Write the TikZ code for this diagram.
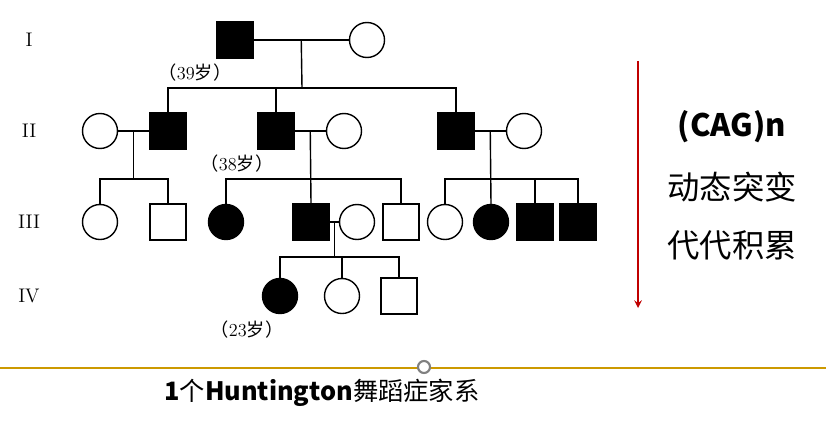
\documentclass[tikz,border=0pt]{standalone}
\usepackage{fontspec}
\newfontfamily\cjk{Noto Sans CJK SC}
\usetikzlibrary{calc}
\usetikzlibrary{positioning}
\definecolor{arrred}{RGB}{192,0,0}
\definecolor{gold}{RGB}{204,153,0}

\begin{document}
\begin{tikzpicture}[>=stealth,x=0.025cm,y=-0.025cm,line width=1pt,
    sq/.style={draw,rectangle,minimum size=0.9cm,inner sep=0pt},
    ci/.style={draw,circle,minimum size=0.875cm,inner sep=0pt},
    aff/.style={fill=black},
    age/.style={font=\fontsize{13}{15}\selectfont},
    gen/.style={font=\fontsize{14}{16}\selectfont}]
    \path[use as bounding box] (0,0) rectangle (826,420);
    % generation numbers
    \foreach \g/\y in {I/40,II/131,III/222,IV/296}
      \node[gen] (g\g) at (29,\y) {\g};
    % I
    \node[sq,aff] (I1) at (235,40) {};
    \node[ci] (I2) at (367,40) {};
    % II
    \node[ci] (II1) at (100,131) {};
    \node[sq,aff] (II2) at (168,131) {};
    \node[sq,aff] (II3) at (276,131) {};
    \node[ci] (II4) at (344,131) {};
    \node[sq,aff] (II5) at (456,131) {};
    \node[ci] (II6) at (524,131) {};
    % III
    \node[ci] (III1) at (100,222) {};
    \node[sq] (III2) at (168,222) {};
    \node[ci,aff] (III3) at (226,222) {};
    \node[sq,aff] (III4) at (311,222) {};
    \node[ci] (III5) at (357,222) {};
    \node[sq] (III6) at (401,222) {};
    \node[ci] (III7) at (445,222) {};
    \node[ci,aff] (III8) at (491,222) {};
    \node[sq,aff] (III9) at (535,222) {};
    \node[sq,aff] (III10) at (578,222) {};
    % IV
    \node[ci,aff] (IV1) at (280,296) {};
    \node[ci] (IV2) at (342,296) {};
    \node[sq] (IV3) at (399,296) {};

    % matings and sibships
    \draw (I1) -- (I2);
    \coordinate (m1) at ($(I1.east)!0.5!(I2.west)$);
    \coordinate (s1) at (302,88);
    \draw (m1) -- (s1);
    \draw (II2.north) -- (II2.north |- s1) -- (II5.north |- s1) -- (II5.north);
    \draw (II3.north) -- (II3.north |- s1);

    \draw (II1) -- (II2);
    \coordinate (m2) at ($(II1.east)!0.5!(II2.west)$);
    \coordinate (s2) at ($(m2) + (0,48)$);
    \draw (m2) -- (s2);
    \draw (III1.north) -- (III1.north |- s2) -- (III2.north |- s2) -- (III2.north);

    \draw (II3) -- (II4);
    \coordinate (m3) at ($(II3.east)!0.5!(II4.west)$);
    \coordinate (s3) at ($(m3) + (0,48)$);
    \draw (m3) -- (III4.north);
    \draw (III3.north) -- (III3.north |- s3) -- (III6.north |- s3) -- (III6.north);

    \draw (II5) -- (II6);
    \coordinate (m4) at ($(II5.east)!0.5!(II6.west)$);
    \coordinate (s4) at ($(m4) + (0,48)$);
    \draw (m4) -- (III8.north);
    \draw (III7.north) -- (III7.north |- s4) -- (III10.north |- s4) -- (III10.north);
    \draw (III9.north) -- (III9.north |- s4);

    \draw (III4) -- (III5);
    \coordinate (m5) at ($(III4.east)!0.5!(III5.west)$);
    \coordinate (s5) at ($(m5) + (0,35)$);
    \draw (m5) -- (s5);
    \draw (IV1.north) -- (IV1.north |- s5) -- (IV3.north |- s5) -- (IV3.north);
    \draw (IV2.north) -- (IV2.north |- s5);

    % ages
    \node[age] (a1) at (195,73) {{\cjk （}39{\cjk 岁）}};
    \node[age] (a2) at (237,164) {{\cjk （}38{\cjk 岁）}};
    \node[age] (a3) at (247,330) {{\cjk （}23{\cjk 岁）}};

    % right side
    \coordinate (r1) at (638,61);
    \coordinate (r2) at (638,308);
    \draw[->,arrred,line width=1.4pt] (r1) -- (r2);
    \node[font=\cjk\bfseries\fontsize{22}{24}\selectfont] (cag) at (732,127) {(CAG)n};
    \node[font=\cjk\fontsize{23}{25}\selectfont] (dyn) at (732,187) {动态突变};
    \node[font=\cjk\fontsize{23}{25}\selectfont] (acc) at (732,245) {代代积累};

    % bottom
    \coordinate (b1) at (0,368);
    \coordinate (b2) at (826,368);
    \draw[gold,line width=1.5pt] (b1) -- (b2);
    \node[draw=gray,line width=1.5pt,fill=white,circle,minimum size=0.3cm,inner sep=0pt] (dot) at (424,367) {};
    \node[font=\cjk\fontsize{18}{20}\selectfont] (title) at (322,393) {{\bfseries 1}个{\bfseries Huntington}舞蹈症家系};
\end{tikzpicture}
\end{document}
